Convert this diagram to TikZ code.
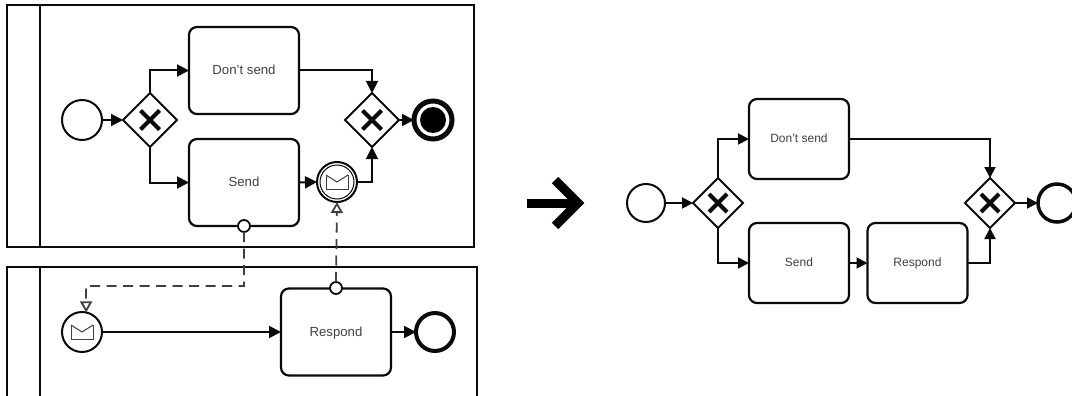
\documentclass[tikz,border=0pt]{standalone}
\usepackage{fontspec}
\setmainfont{Liberation Sans}
\usetikzlibrary{shapes.geometric,arrows.meta,calc}
\definecolor{ink}{HTML}{0A0A0A}
\definecolor{label}{HTML}{404040}
\tikzset{
  flow/.style={line width=2pt,draw=ink,-{Triangle[length=12pt,width=12pt]}},
  flowS/.style={line width=1.9pt,draw=ink,-{Triangle[length=11pt,width=11pt]}},
  msg/.style={line width=1.8pt,draw=label,dash pattern=on 10pt off 6.5pt,-{Triangle[open,fill=white,length=11pt,width=12pt]}},
  pool/.style={draw=ink,line width=2pt,rectangle,inner sep=0,outer sep=0,anchor=north west},
  lane/.style={draw=ink,line width=2pt},
  task/.style={draw=ink,line width=2.2pt,rectangle,rounded corners=8pt,inner sep=0,outer sep=0,fill=white,text=label,font=\fontsize{13.2}{15}\selectfont,minimum width=110pt,minimum height=87pt,text height=8pt,text depth=0pt},
  taskS/.style={task,font=\fontsize{12}{14}\selectfont,minimum width=100pt,minimum height=80pt,text height=7.5pt},
  gate/.style={draw=ink,line width=2pt,diamond,aspect=1,inner sep=0,outer sep=0,fill=white,minimum width=54pt,minimum height=54pt},
  gateS/.style={gate,minimum width=50pt,minimum height=50pt},
  xmark/.style={draw=ink,line width=4.2pt},
  ev/.style={draw=ink,line width=2pt,circle,inner sep=0,outer sep=0,fill=white,minimum size=40pt},
  evS/.style={ev,minimum size=38pt},
  evend/.style={ev,line width=4pt},
  port/.style={draw=ink,line width=1.8pt,circle,inner sep=0,outer sep=0,fill=white,minimum size=12pt},
  envel/.style={draw=label,line width=1pt,fill=white},
  bigarrow/.style={draw=black,line width=9pt},
}
\newcommand{\envelope}[2]{%
  \draw[envel] (#1-11,#2-7) rectangle (#1+11,#2+7);
  \draw[envel] (#1-11,#2-7) -- (#1,#2) -- (#1+11,#2-7);
}
\newcommand{\gatex}[3]{%
  \draw[xmark] (#1-#3,#2-#3) -- (#1+#3,#2+#3);
  \draw[xmark] (#1-#3,#2+#3) -- (#1+#3,#2-#3);
}
\begin{document}
\begin{tikzpicture}[x=1pt,y=-1pt]
\useasboundingbox (0,0) rectangle (1072,396);
\clip (0,0) rectangle (1072,396);
% pools
\node[pool,minimum width=467pt,minimum height=242pt] (poolA) at (7,5) {};
\draw[lane] (40,5) -- (40,247);
\node[pool,minimum width=470pt,minimum height=160pt] (poolB) at (7,267) {};
\draw[lane] (40,267) -- (40,396);
% left process
\node[ev] (start) at (82,120) {};
\node[gate] (gA) at (150,120) {};
\gatex{150}{120}{9.5}
\node[task] (dont) at (244,70.5) {Don\symbol{39}t send};
\node[task] (send) at (244,182.5) {Send};
\node[gate] (gB) at (372,120) {};
\gatex{372}{120}{9.5}
\node[ev,line width=5pt,minimum size=38pt] (stop) at (433,120) {};
\node[circle,fill=black,inner sep=0,minimum size=26pt] (stopdot) at (433,120) {};
\node[ev] (catch) at (337,182) {};
\node[draw=ink,line width=1pt,circle,inner sep=0,minimum size=34pt] (catchin) at (337,182) {};
\envelope{337}{182}
\node[task] (resp) at (336,332) {Respond};
\node[ev] (recv) at (82,332) {};
\envelope{82}{332}
\node[evend,minimum size=38pt] (fin) at (435,332) {};
\node[port] (portA) at (244,226) {};
\node[port] (portB) at (336,288) {};
\coordinate (bend) at (86,286);
% flows
\draw[flow] (start) -- (gA);
\draw[flow] (gA.north) |- (dont.west);
\draw[flow] (gA.south) |- (send.west);
\draw[flow] (dont.east) -| (gB.north);
\draw[flow] (send.east) -- (catch.west);
\draw[flow] (catch.east) -| (gB.south);
\draw[flow] (gB.east) -- (stop.west);
\draw[flow] (recv.east) -- (resp.west);
\draw[flow] (resp.east) -- (fin.west);
% message flows
\draw[msg] (portA.south) |- (bend) -- (recv.78);
\draw[msg] (portB.north) -- (catch.south);
% big arrow
\coordinate (bigS) at (527,203);
\coordinate (bigT) at (578,203);
\draw[bigarrow] (bigS) -- (bigT);
\draw[bigarrow,line join=miter] (555,180) -- (bigT) -- (555,226);
% right process
\node[evS] (startR) at (646,203) {};
\node[gateS] (gC) at (718,203) {};
\gatex{718}{203}{9}
\node[taskS] (dontR) at (799,139) {Don\symbol{39}t send};
\node[taskS] (sendR) at (799,263) {Send};
\node[taskS] (respR) at (917.5,263) {Respond};
\node[gateS] (gD) at (990,203) {};
\gatex{990}{203}{9}
\node[evS,line width=3.5pt] (finR) at (1057,203) {};
\draw[flowS] (startR) -- (gC);
\draw[flowS] (gC.north) |- (dontR.west);
\draw[flowS] (gC.south) |- (sendR.west);
\draw[flowS] (dontR.east) -| (gD.north);
\draw[flowS] (sendR.east) -- (respR.west);
\draw[flowS] (respR.east) -| (gD.south);
\draw[flowS] (gD.east) -- (finR.west);
\end{tikzpicture}
\end{document}
